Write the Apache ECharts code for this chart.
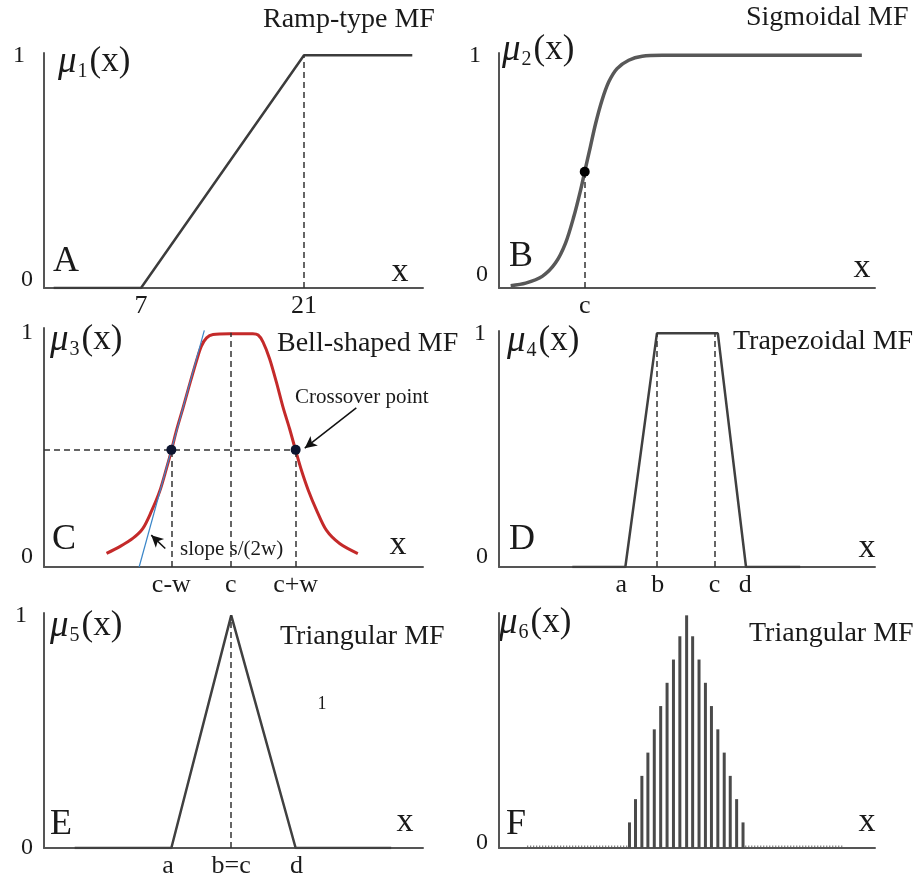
<!DOCTYPE html>
<html>
<head>
<meta charset="utf-8">
<script src="https://cdn.jsdelivr.net/npm/echarts@6/dist/echarts.min.js"></script>
<style>
html, body { margin: 0; padding: 0; background: #fff; }
#chart { width: 918px; height: 883px; }
</style>
</head>
<body>
<div id="chart"></div>
<script>
// A - ramp-type MF (x in real units)
var rampX = [-0.5, 7, 21, 30.3]
var rampY = [0, 0, 1, 1]
var rampTicks = [7, 21]
var rampLabels = ['7', '21']

// B - sigmoid (x in % of axis)
var sigX = [3.1, 7.1, 11.5, 15.0, 17.7, 19.9, 21.7, 22.8, 24.3, 25.7, 27.4, 29.2, 31.4, 34.5, 38.1, 43.4, 60, 96.5]
var sigY = [0.01, 0.021, 0.05, 0.107, 0.193, 0.307, 0.421, 0.5, 0.607, 0.707, 0.807, 0.886, 0.943, 0.979, 0.996, 1, 1, 1]
var sigC = 22.8

// C - bell shaped
var bellX = [16.5, 20.0, 23.5, 26.1, 28.3, 30.5, 32.3, 33.6, 34.9, 36.7, 38.4, 40.2, 41.5, 42.9, 44.6, 49.0, 55.1, 56.5, 57.8, 59.5, 61.3, 63.1, 64.8, 66.4, 67.9, 69.7, 71.9, 74.5, 78.0, 82.8]
var bellY = [0.058, 0.087, 0.123, 0.165, 0.236, 0.322, 0.42, 0.496, 0.58, 0.68, 0.778, 0.878, 0.942, 0.978, 0.992, 0.995, 0.995, 0.99, 0.96, 0.89, 0.79, 0.68, 0.59, 0.497, 0.414, 0.329, 0.243, 0.157, 0.1, 0.057]
var tangentX = [25.1, 42.3]
var tangentY = [0, 1.01]
var bellTicks = [33.6, 49.3, 66.4]
var bellLabels = ['c-w', 'c', 'c+w']

// D - trapezoid
var trapX = [19.5, 33.6, 42.0, 58.2, 65.7, 80.1]
var trapY = [0, 0, 1, 1, 0, 0]
var trapGuides = [42.0, 57.3]
var trapTicks = [32.5, 42.2, 57.3, 65.5]
var trapLabels = ['a', 'b', 'c', 'd']

// E - triangle
var triX = [8.1, 33.6, 49.4, 66.4, 91.6]
var triY = [0, 0, 1, 0, 0]
var triTicks = [32.7, 49.4, 66.6]
var triLabels = ['a', 'b=c', 'd']

// F - discrete triangle
var stemX = [34.7, 36.3, 38.0, 39.6, 41.3, 43.0, 44.7, 46.4, 48.1, 49.9, 51.5, 53.2, 54.9, 56.5, 58.2, 59.9, 61.5, 63.2, 64.9]
var stemY = [0.11, 0.21, 0.31, 0.41, 0.51, 0.61, 0.71, 0.81, 0.91, 1.0, 0.91, 0.81, 0.71, 0.61, 0.51, 0.41, 0.31, 0.21, 0.11]
var dotX = [7.5, 34.5, 65.5, 91.6]

var serif = '"Liberation Serif", "Times New Roman", serif'
var ink = '#1a1a1a'

function pairs(xs, ys) {
    return xs.map(function (x, i) { return [x, ys[i]] })
}

function vline(x, y0, y1) {
    return [{ coord: [x, y0] }, { coord: [x, y1] }]
}

function xAx(i, min, max, ticks, labels) {
    return {
        type: 'value', gridIndex: i, min: min, max: max,
        axisLine: { show: true, onZero: false, lineStyle: { color: '#555', width: 2 } },
        axisTick: { show: false },
        splitLine: { show: false },
        axisLabel: {
            show: ticks.length > 0,
            customValues: ticks,
            margin: 5,
            fontSize: 26,
            fontFamily: serif,
            color: ink,
            formatter: function (v) {
                for (var k = 0; k < ticks.length; k++) {
                    if (Math.abs(ticks[k] - v) < 1e-6) return labels[k]
                }
                return ''
            }
        }
    }
}

// zeroUp / onePad: small nudges of the 0 / 1 labels
function yAx(i, max, vals, zeroUp, onePad) {
    return {
        type: 'value', gridIndex: i, min: 0, max: max,
        axisLine: { show: true, onZero: false, lineStyle: { color: '#555', width: 2 } },
        axisTick: { show: false },
        splitLine: { show: false },
        axisLabel: {
            customValues: vals,
            margin: 11,
            formatter: function (v) { return v === 0 ? '{z|0}' : '{o|1}' },
            rich: {
                z: { fontSize: 24, fontFamily: serif, color: ink, padding: [0, 0, zeroUp * 2, 0] },
                o: { fontSize: 24, fontFamily: serif, color: ink, padding: [0, onePad, 0, 0] }
            }
        }
    }
}

function txt(x, y, s, size, align) {
    return {
        type: 'text', x: x, y: y, silent: true,
        style: { text: s, fontSize: size, fontFamily: serif, fill: ink, align: align || 'left', verticalAlign: 'middle' }
    }
}

function mu(x, y, n) {
    return {
        type: 'text', x: x, y: y, silent: true,
        style: {
            text: '{m|μ}{s|' + n + '}{p|(x)}',
            align: 'left', verticalAlign: 'middle',
            rich: {
                m: { fontSize: 37, fontStyle: 'italic', fontFamily: serif, fill: ink, lineHeight: 40 },
                s: { fontSize: 20, fontFamily: serif, fill: ink, verticalAlign: 'bottom', lineHeight: 40, padding: [0, 2, 0, 1] },
                p: { fontSize: 35, fontFamily: serif, fill: ink, lineHeight: 40 }
            }
        }
    }
}

var dash = { type: [6, 4], color: '#333', width: 1.5 }

var option = {
    animation: false,
    backgroundColor: '#fff',
    grid: [
        { left: 44, top: 53, width: 379, height: 235 },
        { left: 499, top: 53, width: 376, height: 235 },
        { left: 44, top: 328, width: 379, height: 239 },
        { left: 499, top: 331, width: 376, height: 236 },
        { left: 44, top: 613, width: 379, height: 235 },
        { left: 499, top: 613, width: 376, height: 235 }
    ],
    xAxis: [
        xAx(0, -1.33, 31.22, rampTicks, rampLabels),
        xAx(1, 0, 100, [sigC], ['c']),
        xAx(2, 0, 100, bellTicks, bellLabels),
        xAx(3, 0, 100, trapTicks, trapLabels),
        xAx(4, 0, 100, triTicks, triLabels),
        xAx(5, 0, 100, [], [])
    ],
    yAxis: [
        yAx(0, 1.01, [0, 1], 8, 8),
        yAx(1, 1.01, [0, 1], 13, 7),
        yAx(2, 1.02, [0, 1], 10, 0),
        yAx(3, 1.01, [0, 1], 10, 2),
        yAx(4, 1.01, [0, 1], 0, 6),
        yAx(5, 1.01, [0], 5, 0)
    ],
    series: [
        {
            name: 'ramp', type: 'line', xAxisIndex: 0, yAxisIndex: 0,
            data: pairs(rampX, rampY), symbol: 'none',
            lineStyle: { color: '#3c3c3c', width: 2.5 },
            markLine: { silent: true, symbol: 'none', label: { show: false }, lineStyle: dash, data: [vline(21, 0, 1)] }
        },
        {
            name: 'sigmoid', type: 'line', xAxisIndex: 1, yAxisIndex: 1,
            data: pairs(sigX, sigY), symbol: 'none', smooth: 0.3,
            lineStyle: { color: '#585858', width: 3.5 },
            markLine: { silent: true, symbol: 'none', label: { show: false }, lineStyle: dash, data: [vline(sigC, 0, 0.5)] }
        },
        {
            name: 'sigC', type: 'scatter', xAxisIndex: 1, yAxisIndex: 1, z: 5,
            data: [[sigC, 0.5]], symbolSize: 10, itemStyle: { color: '#000', opacity: 1 }
        },
        {
            name: 'bell', type: 'line', xAxisIndex: 2, yAxisIndex: 2,
            data: pairs(bellX, bellY), symbol: 'none', smooth: 0.3,
            lineStyle: { color: '#c42a2a', width: 3 },
            markLine: {
                silent: true, symbol: 'none', label: { show: false }, lineStyle: dash,
                data: [
                    [{ coord: [0, 0.5] }, { coord: [66.4, 0.5] }],
                    vline(33.6, 0, 0.5),
                    vline(49.3, 0, 1),
                    vline(66.4, 0, 0.5)
                ]
            }
        },
        {
            name: 'tangent', type: 'line', xAxisIndex: 2, yAxisIndex: 2,
            data: pairs(tangentX, tangentY), symbol: 'none',
            lineStyle: { color: '#3b86c8', width: 1.2 },
            markLine: {
                silent: true, symbol: ['none', 'arrow'], symbolSize: [9, 12], label: { show: false },
                lineStyle: { type: 'solid', color: '#111', width: 1.5 },
                data: [
                    [{ coord: [82.4, 0.679] }, { coord: [68.8, 0.507] }],
                    [{ coord: [32.0, 0.079] }, { coord: [28.3, 0.136] }]
                ]
            }
        },
        {
            name: 'crossover', type: 'scatter', xAxisIndex: 2, yAxisIndex: 2, z: 5,
            data: [[33.6, 0.5], [66.4, 0.5]], symbolSize: 10, itemStyle: { color: '#0d1530', opacity: 1 }
        },
        {
            name: 'trap', type: 'line', xAxisIndex: 3, yAxisIndex: 3,
            data: pairs(trapX, trapY), symbol: 'none',
            lineStyle: { color: '#404040', width: 2.5 },
            markLine: { silent: true, symbol: 'none', label: { show: false }, lineStyle: dash, data: trapGuides.map(function (g) { return vline(g, 0, 1) }) }
        },
        {
            name: 'tri', type: 'line', xAxisIndex: 4, yAxisIndex: 4,
            data: pairs(triX, triY), symbol: 'none',
            lineStyle: { color: '#404040', width: 2.5 },
            markLine: { silent: true, symbol: 'none', label: { show: false }, lineStyle: dash, data: [vline(49.4, 0, 1)] }
        },
        {
            name: 'stems', type: 'bar', xAxisIndex: 5, yAxisIndex: 5,
            data: pairs(stemX, stemY), barWidth: 3,
            itemStyle: { color: '#4a4a4a' }
        },
        {
            name: 'dots', type: 'line', xAxisIndex: 5, yAxisIndex: 5, symbol: 'none',
            data: [[dotX[0], 0.008], [dotX[1], 0.008], [50, '-'], [dotX[2], 0.008], [dotX[3], 0.008]],
            lineStyle: { color: '#666', width: 1.5, type: [1, 2] }
        }
    ],
    graphic: [
        txt(263, 20, 'Ramp-type MF', 28),
        txt(746, 18, 'Sigmoidal MF', 28),
        txt(277, 344, 'Bell-shaped MF', 28),
        txt(733, 342, 'Trapezoidal MF', 28),
        txt(280, 637, 'Triangular MF', 28),
        txt(749, 634, 'Triangular MF', 28),
        txt(295, 397, 'Crossover point', 21),
        txt(180, 549, 'slope s/(2w)', 21),
        txt(322, 704, '1', 18, 'center'),
        txt(53, 262, 'A', 36), txt(509, 257, 'B', 36), txt(52, 540, 'C', 36),
        txt(509, 540, 'D', 36), txt(50, 825, 'E', 36), txt(506, 825, 'F', 36),
        txt(400, 272, 'x', 34, 'center'), txt(862, 268, 'x', 34, 'center'),
        txt(398, 545, 'x', 34, 'center'), txt(867, 548, 'x', 34, 'center'),
        txt(405, 822, 'x', 34, 'center'), txt(867, 822, 'x', 34, 'center'),
        mu(58, 62, 1), mu(502, 50, 2), mu(50, 340, 3),
        mu(507, 341, 4), mu(50, 626, 5), mu(499, 623, 6)
    ]
}

echarts.init(document.getElementById('chart')).setOption(option)
</script>
</body>
</html>
